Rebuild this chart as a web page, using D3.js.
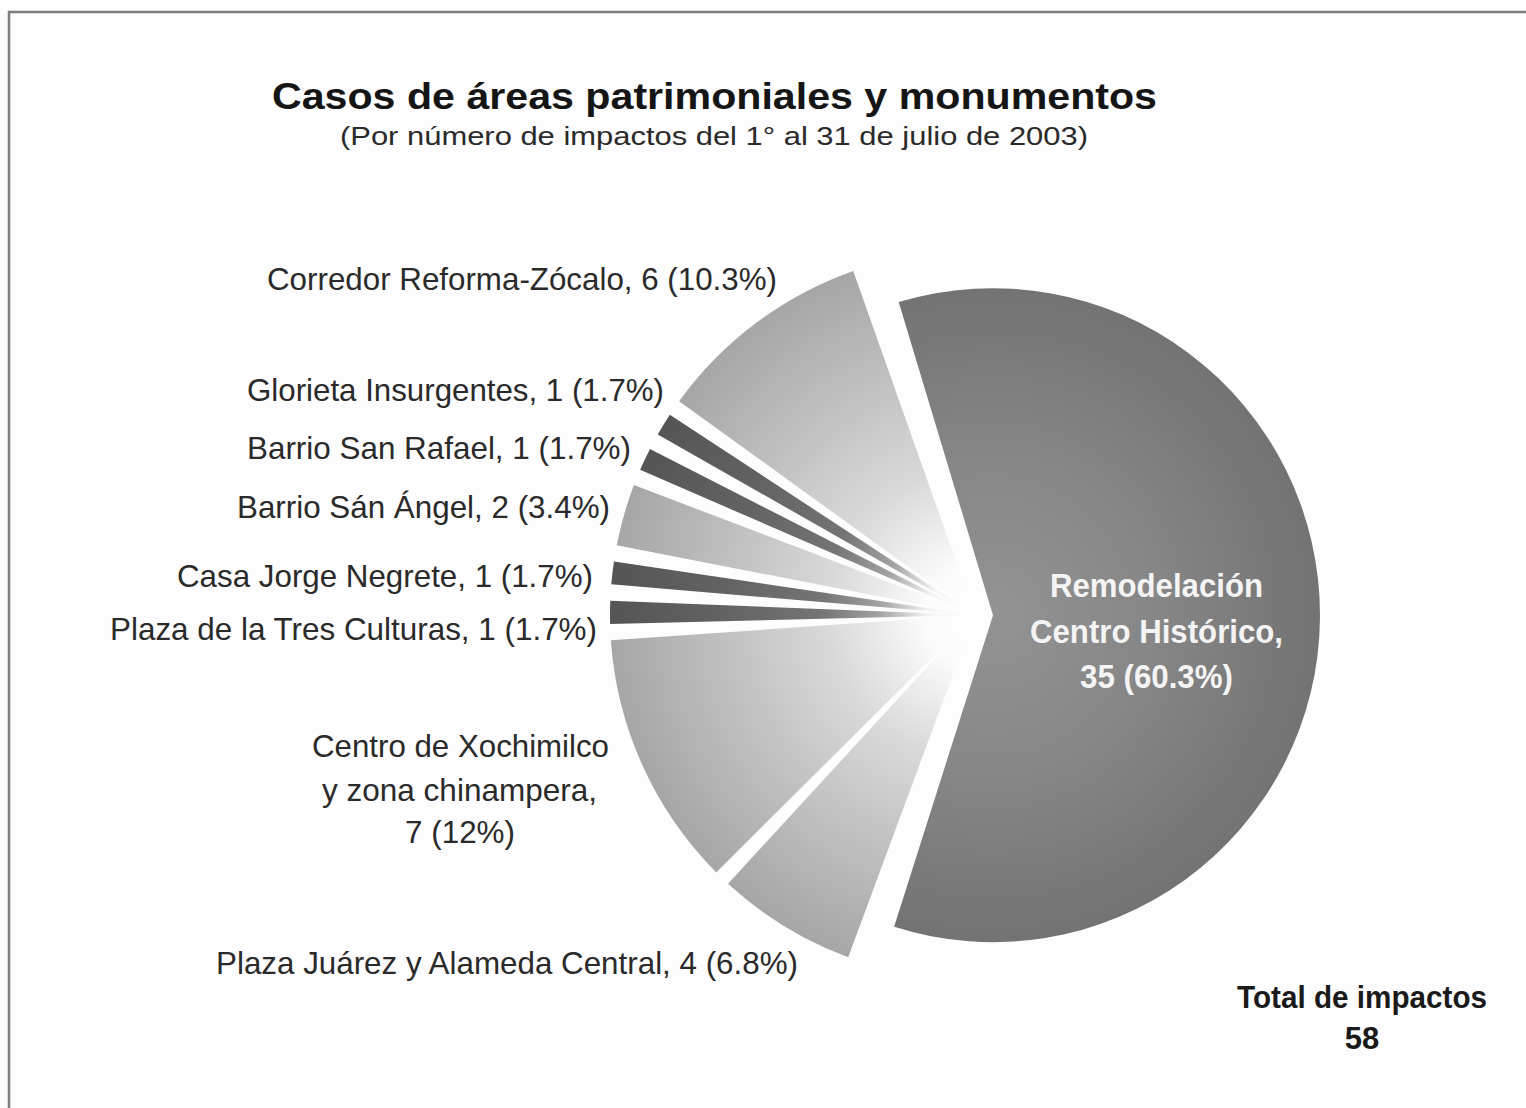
<!DOCTYPE html>
<html>
<head>
<meta charset="utf-8">
<script src="https://cdn.jsdelivr.net/npm/d3@7"></script>
<style>
  html, body { margin: 0; padding: 0; background: #fdfdfd; }
  svg { display: block; }
</style>
</head>
<body>
<svg id="chart" width="1526" height="1108"></svg>
<script>
// ---------------- DATA ----------------
const categories = [
  "Remodelación Centro Histórico",
  "Plaza Juárez y Alameda Central",
  "Centro de Xochimilco y zona chinampera",
  "Plaza de la Tres Culturas",
  "Casa Jorge Negrete",
  "Barrio Sán Ángel",
  "Barrio San Rafael",
  "Glorieta Insurgentes",
  "Corredor Reforma-Zócalo"
];
const values = [35, 4, 7, 1, 1, 2, 1, 1, 6];
const percents = ["60.3%", "6.8%", "12%", "1.7%", "1.7%", "3.4%", "1.7%", "1.7%", "10.3%"];
const titleText = "Casos de áreas patrimoniales y monumentos";
const subtitleText = "(Por número de impactos del 1° al 31 de julio de 2003)";
const totalLabel = "Total de impactos";
const totalValue = d3.sum(values);

// ---------------- LAYOUT / STYLE ----------------
const W = 1526, H = 1108;
const CX = 975, CY = 615;
const R_SMALL = 365, R_BIG = 327, BIG_EXPLODE = 18;
const START = -18.2 * Math.PI / 180;
const tone = ["big", "light", "light", "dark", "dark", "light", "dark", "dark", "light"];
const FONT = "'Liberation Sans', Arial, Helvetica, sans-serif";

// label layout: [x start, baseline y, text length]; split = words in first line
const labelLayout = [
  { lines: [[1050, 597, 213], [1030, 643, 253], [1080, 688, 153]], split: 1, inside: true },
  { lines: [[216, 974, 582]] },
  { lines: [[312, 757, 297], [322, 801, 275], [405, 843, 110]], split: 3 },
  { lines: [[110, 640, 487]] },
  { lines: [[177, 587, 416]] },
  { lines: [[237, 518, 373]] },
  { lines: [[247, 459, 384]] },
  { lines: [[247, 401, 417]] },
  { lines: [[267, 290, 510]] }
];

const svg = d3.select("#chart");
svg.append("rect").attr("width", W).attr("height", H).attr("fill", "#fdfdfd");

// frame
svg.append("path")
  .attr("d", `M9,${H} V12 H${W}`)
  .attr("fill", "none")
  .attr("stroke", "#7d7d7d")
  .attr("stroke-width", 2.5);

// gradients
const defs = svg.append("defs");
function grad(id, r, stops) {
  const g = defs.append("radialGradient")
    .attr("id", id)
    .attr("gradientUnits", "userSpaceOnUse")
    .attr("cx", 0).attr("cy", 0).attr("r", r)
    .attr("fx", 0).attr("fy", 0);
  stops.forEach(([o, c]) => g.append("stop").attr("offset", o).attr("stop-color", c));
}
grad("g-light", R_SMALL, [[0, "#ffffff"], [0.14, "#fbfbfb"], [0.4, "#d9d9d9"], [0.7, "#bfbfbf"], [1, "#a6a6a6"]]);
grad("g-dark", R_SMALL, [[0, "#ffffff"], [0.13, "#f4f4f4"], [0.26, "#a3a3a3"], [0.42, "#747474"], [0.7, "#626262"], [1, "#555555"]]);
grad("g-big", R_BIG, [[0, "#939393"], [0.5, "#868686"], [1, "#737373"]]);

// pie
const pie = d3.pie().sort(null).value(d => d)
  .startAngle(START).endAngle(START + 2 * Math.PI);
const arcs = pie(values);

const arc = d3.arc()
  .innerRadius(0)
  .outerRadius(d => d.index === 0 ? R_BIG : R_SMALL)
  .padAngle(0.045)
  .padRadius(R_SMALL);

const g = svg.append("g").attr("transform", `translate(${CX},${CY})`);
g.selectAll("path.slice")
  .data(arcs)
  .join("path")
  .attr("class", "slice")
  .attr("transform", d => {
    if (d.index !== 0) return null;
    const mid = (d.startAngle + d.endAngle) / 2;
    return `translate(${BIG_EXPLODE * Math.sin(mid)},${-BIG_EXPLODE * Math.cos(mid)})`;
  })
  .attr("d", arc)
  .attr("fill", d => `url(#g-${tone[d.index]})`);

// labels
function labelLines(i) {
  const L = labelLayout[i];
  if (L.lines.length === 1) return [`${categories[i]}, ${values[i]} (${percents[i]})`];
  const words = categories[i].split(" ");
  return [
    words.slice(0, L.split).join(" "),
    words.slice(L.split).join(" ") + ",",
    `${values[i]} (${percents[i]})`
  ];
}

categories.forEach((c, i) => {
  const L = labelLayout[i];
  const lines = labelLines(i);
  lines.forEach((t, k) => {
    const [x, y, len] = L.lines[k];
    svg.append("text")
      .attr("x", x).attr("y", y)
      .attr("textLength", len)
      .attr("lengthAdjust", "spacingAndGlyphs")
      .attr("font-family", FONT)
      .attr("font-size", L.inside ? 34 : 32)
      .attr("font-weight", L.inside ? "bold" : "normal")
      .attr("fill", L.inside ? "#f4f4f4" : "#2a2a2a")
      .text(t);
  });
});

// title & subtitle
svg.append("text")
  .attr("x", 272).attr("y", 109)
  .attr("textLength", 885).attr("lengthAdjust", "spacingAndGlyphs")
  .attr("font-family", FONT).attr("font-size", 37).attr("font-weight", "bold")
  .attr("fill", "#151515")
  .text(titleText);
svg.append("text")
  .attr("x", 340).attr("y", 145)
  .attr("textLength", 748).attr("lengthAdjust", "spacingAndGlyphs")
  .attr("font-family", FONT).attr("font-size", 26)
  .attr("fill", "#2a2a2a")
  .text(subtitleText);

// total
svg.append("text")
  .attr("x", 1237).attr("y", 1008)
  .attr("textLength", 250).attr("lengthAdjust", "spacingAndGlyphs")
  .attr("font-family", FONT).attr("font-size", 31).attr("font-weight", "bold")
  .attr("fill", "#1a1a1a")
  .text(totalLabel);
svg.append("text")
  .attr("x", 1362).attr("y", 1049)
  .attr("text-anchor", "middle")
  .attr("font-family", FONT).attr("font-size", 31).attr("font-weight", "bold")
  .attr("fill", "#1a1a1a")
  .text(totalValue);
</script>
</body>
</html>
